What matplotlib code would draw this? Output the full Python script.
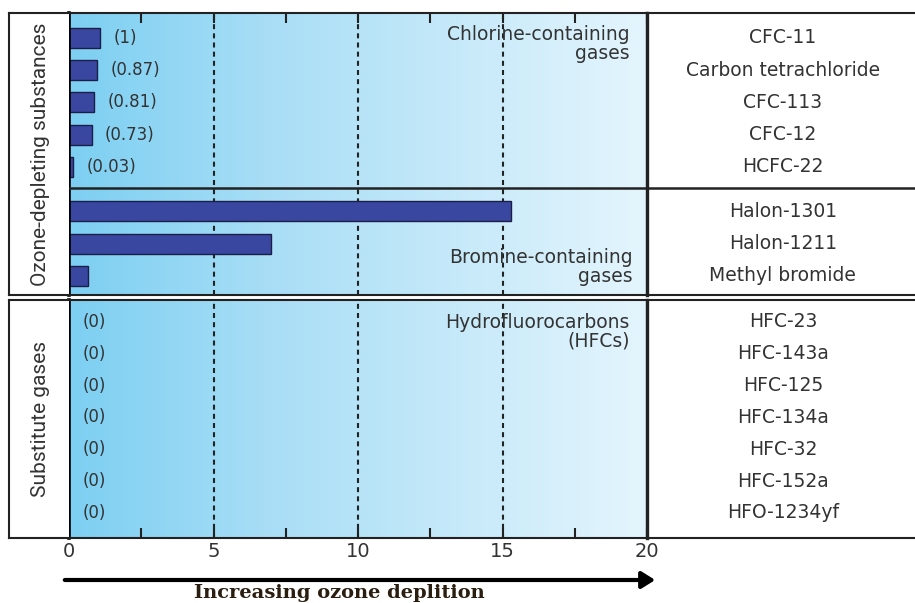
import numpy as np
import matplotlib
matplotlib.use('Agg')
import matplotlib.pyplot as plt
from matplotlib.colors import LinearSegmentedColormap
from matplotlib.patches import FancyArrowPatch

# Dados
chlorine_gases = ['CFC-11', 'Carbon tetrachloride', 'CFC-113', 'CFC-12', 'HCFC-22']
chlorine_bars = [1.08, 0.97, 0.88, 0.79, 0.15]
chlorine_labels = ['(1)', '(0.87)', '(0.81)', '(0.73)', '(0.03)']

bromine_gases = ['Halon-1301', 'Halon-1211', 'Methyl bromide']
bromine_bars = [15.3, 7.0, 0.67]

substitute_gases = ['HFC-23', 'HFC-143a', 'HFC-125', 'HFC-134a', 'HFC-32', 'HFC-152a', 'HFO-1234yf']
substitute_bars = [0, 0, 0, 0, 0, 0, 0]
substitute_labels = ['(0)'] * 7

x_ticks = [0, 5, 10, 15, 20]
x_minor = [2.5, 7.5, 12.5, 17.5]

W, H = 915, 603
TXT = '#333333'
LINE = '#222222'
BAR = '#3a47a0'
side_font = ['Roboto', 'DejaVu Sans']
label_font = ['DejaVu Sans']

fig = plt.figure(figsize=(W / 100, H / 100), dpi=100)


def px_box(x0, y0, x1, y1):
    return [x0 / W, 1 - y1 / H, (x1 - x0) / W, (y1 - y0) / H]


X0, X20 = 69, 647
cmap = LinearSegmentedColormap.from_list('sky', [(0, '#7ccff2'), (0.35, '#a9def6'), (1, '#e4f5fd')])

# posicoes das linhas (em unidades de linha)
ch_pos = np.arange(len(chlorine_gases))
br_pos = 5.38 + np.arange(len(bromine_gases))
divider = 4.65
ylim1 = (7.97, -0.775)
sub_pos = np.arange(len(substitute_gases))
ylim2 = (6.79, -0.69)

sections = [
    (13, 295, ylim1, 'Ozone-depleting substances'),
    (300, 538, ylim2, 'Substitute gases'),
]

axes = []
for top, bottom, ylim, side in sections:
    ax = fig.add_axes(px_box(X0, top, X20, bottom))
    ax.imshow(np.linspace(0, 1, 256)[None, :], extent=(0, 20, ylim[0], ylim[1]),
              aspect='auto', cmap=cmap, zorder=0)
    ax.set_xlim(0, 20)
    ax.set_ylim(*ylim)
    for v in [5, 10, 15]:
        ax.axvline(v, color=LINE, lw=1.5, ls=(0, (2.4, 2.0)), zorder=1)
    for s in ax.spines.values():
        s.set_color(LINE)
        s.set_linewidth(1.5)
    ax.spines['left'].set_color('black')
    ax.spines['left'].set_linewidth(2.6)
    ax.set_yticks([])
    ax.set_xticks(x_ticks)
    ax.set_xticks(x_minor, minor=True)
    ax.tick_params(axis='x', which='both', direction='in', length=7, width=1.5, color=LINE)

    axl = fig.add_axes(px_box(9, top, X0, bottom))
    axl.set_xticks([])
    axl.set_yticks([])
    for s in axl.spines.values():
        s.set_color(LINE)
        s.set_linewidth(1.5)
    axl.spines['right'].set_visible(False)
    axl.text(0.52, 0.5, side, rotation=90, ha='center', va='center',
             family=side_font, fontsize=15, color=TXT)

    axr = fig.add_axes(px_box(X20, top, 930, bottom))
    axr.set_xlim(0, 1)
    axr.set_ylim(*ylim)
    axr.set_xticks([])
    axr.set_yticks([])
    for s in axr.spines.values():
        s.set_color(LINE)
        s.set_linewidth(1.5)
    axr.spines['left'].set_linewidth(2.4)
    axes.append((ax, axr))

(ax1, axr1), (ax2, axr2) = axes

# secao 1: gases com cloro e bromo
ax1.barh(ch_pos, chlorine_bars, height=0.62, color=BAR, edgecolor='#1b1f45', lw=1, zorder=2)
ax1.barh(br_pos, bromine_bars, height=0.62, color=BAR, edgecolor='#1b1f45', lw=1, zorder=2)
for v, p, lab in zip(chlorine_bars, ch_pos, chlorine_labels):
    ax1.annotate(lab, (v, p), xytext=(9.5, 0), textcoords='offset points',
                 ha='left', va='center', fontsize=12, color=TXT, family=label_font)
ax1.axhline(divider, color=LINE, lw=1.8, zorder=3)
axr1.axhline(divider, color=LINE, lw=1.8)
ax1.xaxis.set_ticks_position('top')
ax1.set_xticklabels([])

ax1.text(19.4, 0.18, 'Chlorine-containing\ngases', ha='right', va='center',
         multialignment='right', linespacing=1.0, fontsize=13.5, color=TXT, family=label_font)
ax1.text(19.5, 7.1, 'Bromine-containing\ngases', ha='right', va='center',
         multialignment='right', linespacing=1.0, fontsize=13.5, color=TXT, family=label_font)

for p, g in zip(list(ch_pos) + list(br_pos), chlorine_gases + bromine_gases):
    axr1.text(0.48, p, g, ha='center', va='center', fontsize=13.5, color=TXT, family=label_font)

# secao 2: gases substitutos
ax2.barh(sub_pos, substitute_bars, height=0.62, color=BAR, zorder=2)
for v, p, lab in zip(substitute_bars, sub_pos, substitute_labels):
    ax2.annotate(lab, (v, p), xytext=(10, 0), textcoords='offset points',
                 ha='left', va='center', fontsize=12, color=TXT, family=label_font)
ax2.text(19.4, 0.3, 'Hydrofluorocarbons\n(HFCs)', ha='right', va='center',
         multialignment='right', linespacing=1.0, fontsize=13.5, color=TXT, family=label_font)
ax2.xaxis.set_ticks_position('bottom')
ax2.set_xticklabels([str(t) for t in x_ticks], fontsize=14, color=TXT, family=label_font)
ax2.tick_params(axis='x', which='major', pad=3)
for p, g in zip(sub_pos, substitute_gases):
    axr2.text(0.48, p, g, ha='center', va='center', fontsize=13.5, color=TXT, family=label_font)

# seta e titulo do eixo
fig.add_artist(FancyArrowPatch(
    (62 / W, 1 - 580 / H), (658 / W, 1 - 580 / H), transform=fig.transFigure,
    arrowstyle='-|>, head_length=8, head_width=5', lw=3, color='black', mutation_scale=1))
fig.text(339 / W, 1 - 598 / H, 'Increasing ozone deplition', ha='center', va='baseline',
         family=['DejaVu Serif'], fontweight='bold', fontsize=14, color='#2a1e10')

fig.savefig('out.png', dpi=100)
